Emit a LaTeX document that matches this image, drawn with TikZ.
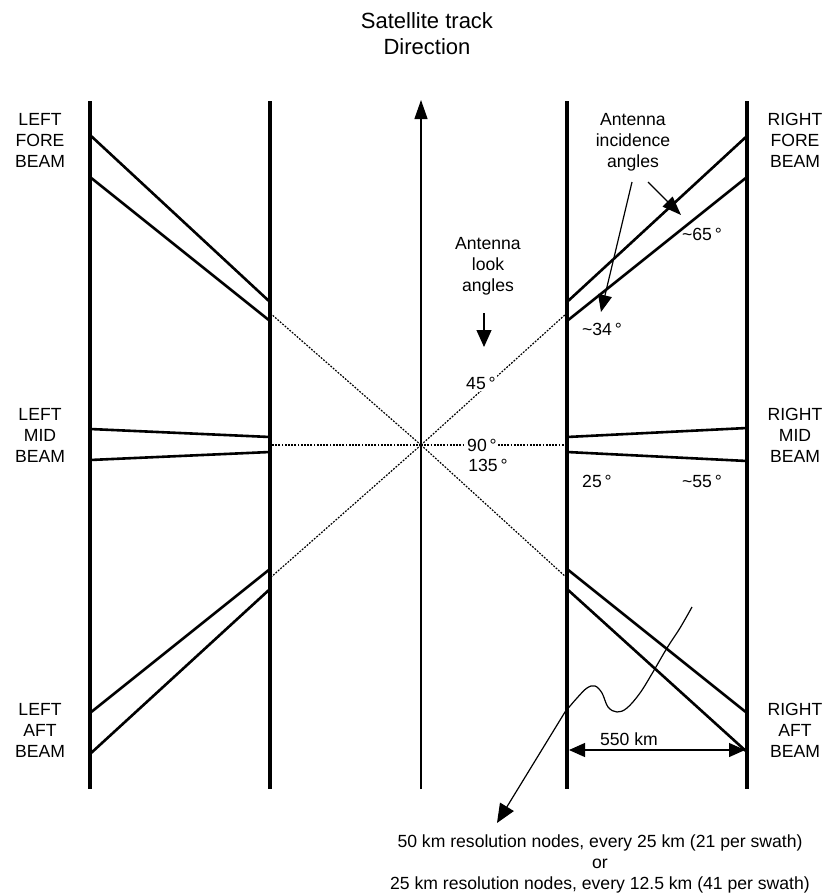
\documentclass[tikz,border=0pt]{standalone}
\usepackage{fontspec}
\setmainfont{Liberation Sans}
\usetikzlibrary{arrows.meta}
\begin{document}
\begin{tikzpicture}[x=1pt,y=-1pt,
  rail/.style={line width=4.5pt},
  beam/.style={line width=2.6pt},
  dots/.style={line width=1.2pt, dash pattern=on 1.8pt off 1.4pt},
  fineline/.style={line width=1.2pt},
  lbl/.style={font=\fontsize{17.6}{21}\selectfont, align=center, inner sep=0pt},
  ttl/.style={font=\fontsize{22}{26}\selectfont, align=center, inner sep=0pt},
  deg/.style={font=\fontsize{17.6}{21}\selectfont, inner sep=1.5pt},
]
\useasboundingbox (0,0) rectangle (826,894);

% rails
\coordinate (LOt) at (90,101);  \coordinate (LOb) at (90,789);
\coordinate (LIt) at (270,101); \coordinate (LIb) at (270,789);
\coordinate (RIt) at (567,101); \coordinate (RIb) at (567,789);
\coordinate (ROt) at (747,101); \coordinate (ROb) at (747,789);
\coordinate (Cb) at (421,789);  \coordinate (Ct) at (421,100);
\coordinate (C) at (421,445);

% dotted look-angle lines
\coordinate (dLF) at (270,313); \coordinate (dRF) at (567,313);
\coordinate (dLM) at (270,445); \coordinate (dRM) at (567,445);
\coordinate (dLA) at (270,578); \coordinate (dRA) at (567,578);
\foreach \p in {dLF,dRF,dLM,dRM,dLA,dRA} \draw[dots] (C) -- (\p);

\draw[rail] (LOt) -- (LOb);
\draw[rail] (LIt) -- (LIb);
\draw[rail] (RIt) -- (RIb);
\draw[rail] (ROt) -- (ROb);
\draw[fineline, -{Triangle[length=19pt,width=13pt]}] (Cb) -- (Ct);

% beams
\draw[beam] (90,135) -- (270,302);
\draw[beam] (90,177) -- (270,321);
\draw[beam] (90,429) -- (270,437);
\draw[beam] (90,460) -- (270,452);
\draw[beam] (90,713) -- (270,569);
\draw[beam] (90,754) -- (270,589);
\draw[beam] (567,302) -- (747,136);
\draw[beam] (567,321) -- (747,177);
\draw[beam] (567,437) -- (747,428);
\draw[beam] (567,452) -- (747,461);
\draw[beam] (567,569) -- (747,713);
\draw[beam] (567,589) -- (747,752);

% beam labels
\node[lbl] (lf) at (40,140) {LEFT\\FORE\\BEAM};
\node[lbl] (lm) at (40,435) {LEFT\\MID\\BEAM};
\node[lbl] (la) at (40,730) {LEFT\\AFT\\BEAM};
\node[lbl] (rf) at (795,140) {RIGHT\\FORE\\BEAM};
\node[lbl] (rm) at (795,435) {RIGHT\\MID\\BEAM};
\node[lbl] (ra) at (795,730) {RIGHT\\AFT\\BEAM};

% title
\node[ttl] (title) at (427,34) {Satellite track\\Direction};

% look angles
\node[lbl] (look) at (488,266) {Antenna\\look\\angles};
\coordinate (la1) at (484,313); \coordinate (la2) at (484,347);
\draw[fineline, -{Triangle[length=17pt,width=15pt]}] (la1) -- (la2);
\node[deg, fill=white] (d45) at (481,383) {45\,°};
\node[deg, fill=white] (d90) at (482,445) {90\,°};
\node[deg] (d135) at (488,465) {135\,°};

% incidence angles
\node[lbl] (inc) at (633,142) {Antenna\\incidence\\angles};
\coordinate (i1s) at (648,182); \coordinate (i1e) at (681,215);
\coordinate (i2s) at (632,182); \coordinate (i2e) at (601,312);
\draw[fineline, -{Triangle[length=19pt,width=14pt]}] (i1s) -- (i1e);
\draw[fineline, -{Triangle[length=17pt,width=14pt]}] (i2s) -- (i2e);
\node[deg] (d65) at (702,234) {\textasciitilde 65\,°};
\node[deg] (d34) at (602,329) {\textasciitilde 34\,°};
\node[deg] (d25) at (597,481) {25\,°};
\node[deg] (d55) at (702,481) {\textasciitilde 55\,°};

% swath width
\coordinate (s1) at (569,750); \coordinate (s2) at (745,750);
\draw[fineline, {Triangle[length=16pt,width=14pt]}-{Triangle[length=16pt,width=14pt]}] (s1) -- (s2);
\node[deg] (km) at (629,739) {550 km};

% nodes arrow
\coordinate (nodetip) at (497,823);
\draw[fineline, -{Triangle[length=19pt,width=16pt]}]
  plot[smooth, tension=0.6] coordinates {(692,607) (680,628) (667,648) (653,672) (640,693) (627,708) (617,712) (608,707) (602,693) (595,686) (587,688) (577,698) (565,712)}
  -- (nodetip);

\node[lbl] (res) at (600,864) {50 km resolution nodes, every 25 km (21 per swath)\\or\\25 km resolution nodes, every 12.5 km (41 per swath)};
\end{tikzpicture}
\end{document}
